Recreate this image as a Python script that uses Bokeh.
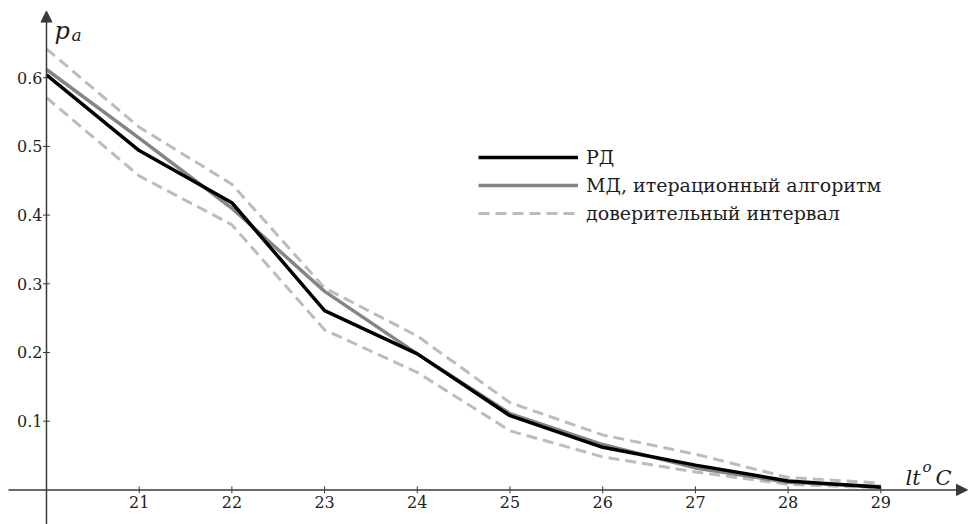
from bokeh.plotting import figure
from bokeh.models import (Range1d, Arrow, NormalHead, Label, Legend, LegendItem,
                          ColumnDataSource)
from bokeh.embed import file_html
from bokeh.resources import INLINE
from bokeh.core.properties import value

# Temperature (lt, °C) and probability p_a
t = [20, 21, 22, 23, 24, 25, 26, 27, 28, 29]
rd = [0.604, 0.494, 0.418, 0.261, 0.198, 0.108, 0.062, 0.036, 0.013, 0.004]
md = [0.612, 0.512, 0.410, 0.289, 0.198, 0.111, 0.066, 0.032, 0.011, 0.005]
ci_upper = [0.642, 0.528, 0.445, 0.294, 0.224, 0.127, 0.080, 0.052, 0.018, 0.010]
ci_lower = [0.571, 0.457, 0.386, 0.233, 0.171, 0.086, 0.048, 0.026, 0.008, 0.003]

x_ticks = [21, 22, 23, 24, 25, 26, 27, 28, 29]
x_tick_labels = ["21", "22", "23", "24", "25", "26", "27", "28", "29"]
y_ticks = [0.1, 0.2, 0.3, 0.4, 0.5, 0.6]
y_tick_labels = ["0.1", "0.2", "0.3", "0.4", "0.5", "0.6"]

legend_labels = ["РД", "МД, итерационный алгоритм", "доверительный интервал"]

FONT = "DejaVu Serif"
AXIS_COLOR = "#3a3a3a"
TEXT_COLOR = "#1e1e1e"

p = figure(width=972, height=524, output_backend="svg", toolbar_location=None,
           x_range=Range1d(19.504, 29.989), y_range=Range1d(-0.0504, 0.7124),
           min_border=0, outline_line_color=None)
p.axis.visible = False
p.grid.visible = False
p.background_fill_color = "white"
p.border_fill_color = "white"

# Axes drawn through the origin (20, 0) with arrow heads
p.add_layout(Arrow(end=NormalHead(size=11, fill_color=AXIS_COLOR, line_color=AXIS_COLOR),
                   x_start=19.59, y_start=0, x_end=29.935, y_end=0,
                   line_color=AXIS_COLOR, line_width=1.5))
p.add_layout(Arrow(end=NormalHead(size=11, fill_color=AXIS_COLOR, line_color=AXIS_COLOR),
                   x_start=20, y_start=-0.05, x_end=20, y_end=0.697,
                   line_color=AXIS_COLOR, line_width=1.5))

# Tick marks
p.scatter(x=x_ticks, y=[0] * len(x_ticks), marker="dash", angle=1.5708, size=7,
          line_color=AXIS_COLOR, line_width=1)
p.scatter(x=[20] * len(y_ticks), y=y_ticks, marker="dash", size=7,
          line_color=AXIS_COLOR, line_width=1)

# Tick labels
p.text(x=x_ticks, y=[0] * len(x_ticks), text=x_tick_labels, y_offset=6,
       text_align="center", text_baseline="top", text_font=value(FONT),
       text_font_size="16px", text_color=TEXT_COLOR)
p.text(x=[20] * len(y_ticks), y=y_ticks, text=y_tick_labels, x_offset=-4,
       text_align="right", text_baseline="middle", text_font=value(FONT),
       text_font_size="16px", text_color=TEXT_COLOR)

# Axis titles
def title_part(x, y, text, size):
    p.add_layout(Label(x=x, y=y, x_units="screen", y_units="screen", text=text,
                       text_font=FONT, text_font_style="italic",
                       text_font_size=size, text_color=TEXT_COLOR,
                       text_baseline="alphabetic"))

title_part(54, 494, "p", "24px")
title_part(71, 490, "a", "17px")
title_part(905, 47, "lt", "21px")
title_part(922, 58, "o", "15px")
title_part(935, 47, "C", "21px")

# Series
src = ColumnDataSource(dict(t=t, rd=rd, md=md, up=ci_upper, lo=ci_lower))
r_up = p.line("t", "up", source=src, line_color="#bcbcbc", line_width=3,
              line_dash="11 6")
r_lo = p.line("t", "lo", source=src, line_color="#bcbcbc", line_width=3,
              line_dash="11 6")
r_md = p.line("t", "md", source=src, line_color="#858585", line_width=3.5)
r_rd = p.line("t", "rd", source=src, line_color="#000000", line_width=3.5)

legend = Legend(items=[LegendItem(label=legend_labels[0], renderers=[r_rd]),
                       LegendItem(label=legend_labels[1], renderers=[r_md]),
                       LegendItem(label=legend_labels[2], renderers=[r_up])],
                location=(478, 300), glyph_width=100, glyph_height=22,
                label_standoff=8, spacing=6, padding=0, margin=0,
                border_line_color=None, background_fill_alpha=0,
                label_text_font=FONT, label_text_font_size="19px",
                label_text_color=TEXT_COLOR, label_height=22)
p.add_layout(legend)

open("out.html", "w").write(file_html(p, INLINE))
